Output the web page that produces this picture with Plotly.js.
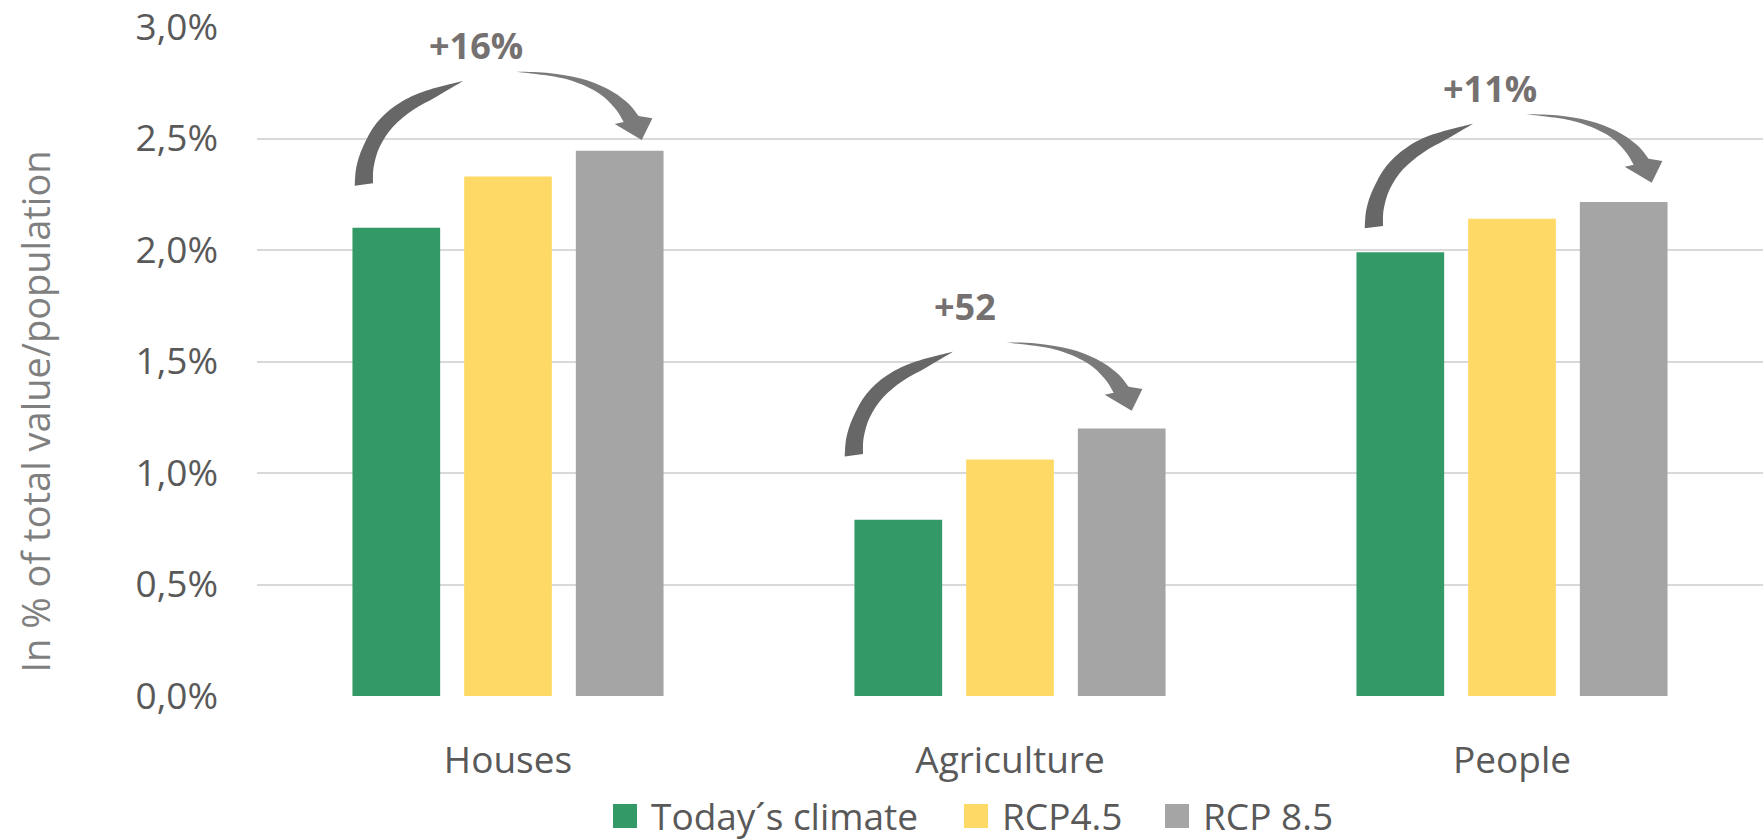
<!DOCTYPE html>
<html>
<head>
<meta charset="utf-8">
<script src="https://cdn.plot.ly/plotly-3.0.1.min.js"></script>
<style>
  html, body { margin: 0; padding: 0; background: #ffffff; }
  #chart { width: 1763px; height: 840px; }
</style>
</head>
<body>
<div id="chart"></div>
<script>
// Share of total value / population exposed, today vs. two climate scenarios
const categories = ['Houses', 'Agriculture', 'People'];
const seriesNames = ['Today\u00B4s climate', 'RCP4.5', 'RCP 8.5'];
const todayClimate = [2.10, 0.79, 1.99];
const rcp45 = [2.33, 1.06, 2.14];
const rcp85 = [2.445, 1.20, 2.215];
const changeLabels = ['+16%', '+52', '+11%'];
const yTickValues = [0, 0.5, 1.0, 1.5, 2.0, 2.5, 3.0];
const yTickLabels = yTickValues.map(v => v.toFixed(1).replace('.', ',') + '%');

const seriesValues = [todayClimate, rcp45, rcp85];
const seriesColors = ['#339966', '#FFD966', '#A5A5A5'];

const FONT = 'Open Sans, Noto Sans, DejaVu Sans, sans-serif';
const TEXT_GREY = '#595959';

const W = 1763, H = 840;
const margin = { l: 257, r: 0, t: 26, b: 143 };
const plotLeft = margin.l, plotRight = W - margin.r;
const plotTop = margin.t, plotBottom = H - margin.b;
const pxToPaperX = px => (px - plotLeft) / (plotRight - plotLeft);
const pxToPaperY = py => (plotBottom - py) / (plotBottom - plotTop);

const bargap = 0.3325, bargroupgap = 0.215;
// centre of the third bar in each group, in x-axis units
const lastBarOffset = (1 - bargap) / 3;

const xPos = categories.map((_, i) => i);

const traces = seriesValues.map((vals, k) => ({
  type: 'bar',
  name: seriesNames[k],
  x: xPos,
  y: vals,
  marker: { color: seriesColors[k], line: { width: 0 } },
  hoverinfo: 'skip',
  showlegend: false
}));

// ---- curved "increase" arrow, outline in px relative to its tip (y pointing down)
const tailOuter = [[-287, 45.7], [-285.3, 26.7], [-278.7, 6.7], [-265.3, -16.7], [-245.3, -35], [-218.7, -48.3], [-178.7, -59]];
const tailInner = [[-268.7, 43.3], [-268, 26.7], [-262, 6.7], [-248.7, -13.3], [-228.7, -30], [-205.3, -43.3], [-178.7, -59]];
const headOuter = [[-125.3, -68.3], [-95.3, -67.3], [-62, -61.7], [-35.3, -51.7], [-15, -38], [-3, -24]];
const headInner = [[-125.3, -68.3], [-78.7, -61.7], [-45.3, -48.3], [-27, -32], [-18, -18]];
const wingOuter = [10.7, -21.7], wingInner = [-27, -16], tipPt = [0, 0];

// where each arrow tip and change label sit, in px from the top-centre of the RCP 8.5 bar
const arrowTipOffset = [[22, 10.7], [10, 17.7], [28, 19.4]];
const labelOffset = [[-144, 105], [-157, 122], [-134, 114]];

function arrowPaths(shift) {
  const fmt = p => (shift[0] + p[0]).toFixed(2) + ',' + (shift[1] - p[1]).toFixed(2);
  // smooth curve through points (Catmull-Rom as cubic Béziers)
  const smooth = pts => {
    let s = '';
    for (let i = 0; i < pts.length - 1; i++) {
      const p0 = pts[Math.max(i - 1, 0)], p1 = pts[i], p2 = pts[i + 1], p3 = pts[Math.min(i + 2, pts.length - 1)];
      const c1 = [p1[0] + (p2[0] - p0[0]) / 6, p1[1] + (p2[1] - p0[1]) / 6];
      const c2 = [p2[0] - (p3[0] - p1[0]) / 6, p2[1] - (p3[1] - p1[1]) / 6];
      s += ' C' + fmt(c1) + ' ' + fmt(c2) + ' ' + fmt(p2);
    }
    return s;
  };
  const tail = 'M' + fmt(tailOuter[0]) + smooth(tailOuter) +
    smooth(tailInner.slice().reverse()) + ' Z';
  const head = 'M' + fmt(headOuter[0]) + smooth(headOuter) +
    ' L' + fmt(wingOuter) + ' L' + fmt(tipPt) + ' L' + fmt(wingInner) +
    ' L' + fmt(headInner[headInner.length - 1]) +
    smooth(headInner.slice().reverse()) + ' Z';
  return { tail, head };
}

const shapes = [];
const annotations = [];
categories.forEach((_, i) => {
  const ax = i + lastBarOffset;
  const paths = arrowPaths(arrowTipOffset[i]);
  const common = {
    type: 'path', xref: 'x', yref: 'y',
    xsizemode: 'pixel', ysizemode: 'pixel',
    xanchor: ax, yanchor: rcp85[i],
    line: { width: 0 }, layer: 'above'
  };
  shapes.push(Object.assign({}, common, { path: paths.tail, fillcolor: '#676767' }));
  shapes.push(Object.assign({}, common, { path: paths.head, fillcolor: '#7A7A7A' }));
  annotations.push({
    xref: 'x', yref: 'y', x: ax, y: rcp85[i],
    xshift: labelOffset[i][0], yshift: labelOffset[i][1],
    text: changeLabels[i], showarrow: false,
    xanchor: 'center', yanchor: 'middle',
    font: { family: FONT, size: 36, color: '#767171', weight: 700 }
  });
});

// vertical axis title
annotations.push({
  xref: 'paper', yref: 'paper', x: pxToPaperX(34), y: pxToPaperY(411.5),
  xanchor: 'center', yanchor: 'middle',
  textangle: -90, showarrow: false,
  text: 'In % of total value/population',
  font: { family: FONT, size: 38, color: '#7F7F7F' }
});

// legend row below the axis: swatch + label per series
const legendSwatchLeft = [613, 964, 1165];
const legendCenterY = 815, swatch = 24, swatchToText = 36;
seriesNames.forEach((name, k) => {
  const x0 = legendSwatchLeft[k];
  shapes.push({
    type: 'rect', xref: 'paper', yref: 'paper',
    x0: pxToPaperX(x0), x1: pxToPaperX(x0 + swatch),
    y0: pxToPaperY(legendCenterY + 1 + swatch / 2), y1: pxToPaperY(legendCenterY + 1 - swatch / 2),
    fillcolor: seriesColors[k], line: { width: 0 }
  });
  annotations.push({
    xref: 'paper', yref: 'paper',
    x: pxToPaperX(x0 + swatchToText), y: pxToPaperY(legendCenterY),
    xanchor: 'left', yanchor: 'middle', showarrow: false,
    text: name,
    font: { family: FONT, size: 37, color: TEXT_GREY }
  });
});

const layout = {
  width: W, height: H,
  margin: margin,
  paper_bgcolor: '#ffffff', plot_bgcolor: '#ffffff',
  font: { family: FONT, size: 37, color: TEXT_GREY },
  barmode: 'group', bargap: bargap, bargroupgap: bargroupgap,
  showlegend: false,
  xaxis: {
    range: [-0.5, 2.5], tickmode: 'array', tickvals: xPos, ticktext: categories,
    showgrid: false, zeroline: false, showline: false, ticks: '',
    ticklabelstandoff: 38, fixedrange: true,
    tickfont: { family: FONT, size: 37, color: TEXT_GREY }
  },
  yaxis: {
    range: [-0.0045, 3.0045], tickmode: 'array', tickvals: yTickValues, ticktext: yTickLabels,
    showgrid: true, gridcolor: '#D9D9D9', gridwidth: 2,
    zeroline: false, showline: false, ticks: '',
    ticklabelstandoff: 38, ticklabeloverflow: 'allow', fixedrange: true,
    tickfont: { family: FONT, size: 37, color: TEXT_GREY }
  },
  shapes: shapes,
  annotations: annotations
};

Plotly.newPlot('chart', traces, layout, { displayModeBar: false, staticPlot: true });
</script>
</body>
</html>
